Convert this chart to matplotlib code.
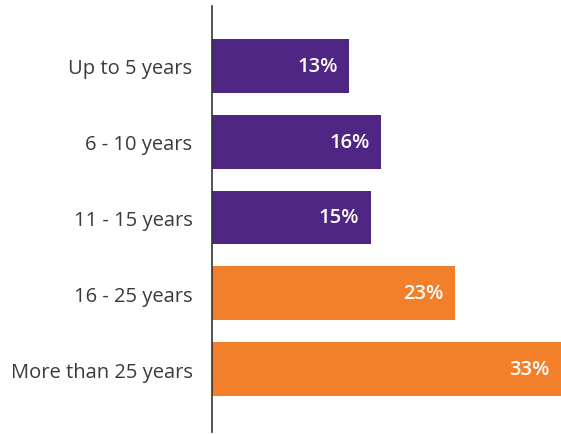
import matplotlib
matplotlib.use("Agg")
import matplotlib.pyplot as plt

categories = ["Up to 5 years", "6 - 10 years", "11 - 15 years", "16 - 25 years", "More than 25 years"]
values = [13, 16, 15, 23, 33]
colors = ["#4F2683", "#4F2683", "#4F2683", "#F27F2A", "#F27F2A"]

plt.rcParams["font.family"] = ["Open Sans", "DejaVu Sans"]

fig = plt.figure(figsize=(5.61, 4.35), dpi=100)
ax = fig.add_axes([212 / 561, 1 - 433 / 435, 1 - 212 / 561, 426 / 435])

ypos = list(range(len(categories)))
ax.barh(ypos, values, height=0.71, color=colors, zorder=2)

# percentage labels inside the end of each bar
for y, v in zip(ypos, values):
    ax.text(v - 1.1, y, f"{v}%", ha="right", va="center", color="white",
            fontsize=14.5, fontweight="semibold")

ax.set_xlim(0, 33)
ax.set_ylim(4.83, -0.79)
ax.set_yticks(ypos)
ax.set_yticklabels(categories, fontsize=14.5, color="#3a3a3a")
ax.tick_params(axis="y", length=0, pad=14)
ax.set_xticks([])
for side in ["top", "right", "bottom"]:
    ax.spines[side].set_visible(False)
ax.spines["left"].set_color("#333333")
ax.spines["left"].set_linewidth(1.2)

fig.savefig("out.png", dpi=100)
